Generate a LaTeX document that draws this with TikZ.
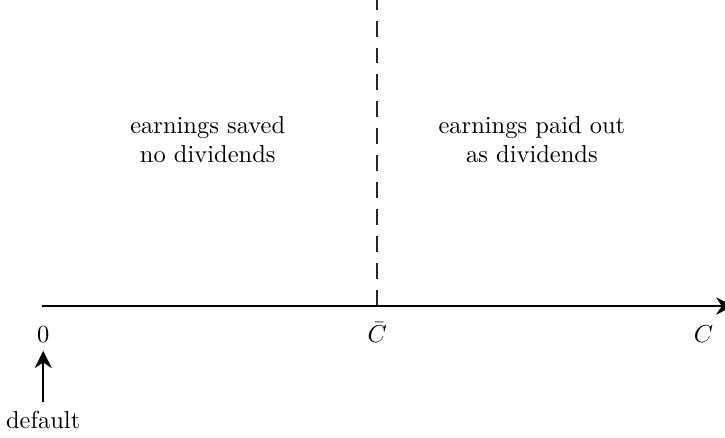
\documentclass[tikz,border=0pt]{standalone}
\usepackage{amsmath,amssymb}
\usetikzlibrary{positioning,calc}
\usetikzlibrary{arrows.meta}
\tikzset{
  axisline/.style={draw=black,line width=0.8pt,-{Stealth[length=7pt,width=7pt]}},
  threshold/.style={draw=black!85,line width=0.8pt,dash pattern=on 6.5pt off 4.5pt},
  tick/.style={anchor=base,inner sep=3.33pt},
  region/.style={align=center},
}

\begin{document}
\begin{tikzpicture}
\useasboundingbox (0,0) rectangle (10.40,6.27);
\coordinate (o) at (0.60,1.88);
\coordinate (cend) at (10.52,1.88);
\coordinate (cbar) at (5.41,1.88);
\coordinate (ctop) at (5.41,6.27);
\draw[threshold] (cbar) -- (ctop);
\draw[axisline] (o) -- (cend);
\node[tick] (zero) at (0.62,1.36) {$0$};
\node[tick] (cbarlab) at (5.41,1.36) {$\bar{C}$};
\node[tick] (clab) at (10.09,1.36) {$C$};
\node[tick] (default) at (0.62,0.13) {default};
\draw[line width=0.8pt,-{Stealth[length=7pt,width=7pt]}] (default) -- (zero);
\node[region] (saved) at (2.98,4.27) {earnings saved\\no dividends};
\node[region] (paid) at (7.63,4.27) {earnings paid out\\as dividends};
\end{tikzpicture}
\end{document}
